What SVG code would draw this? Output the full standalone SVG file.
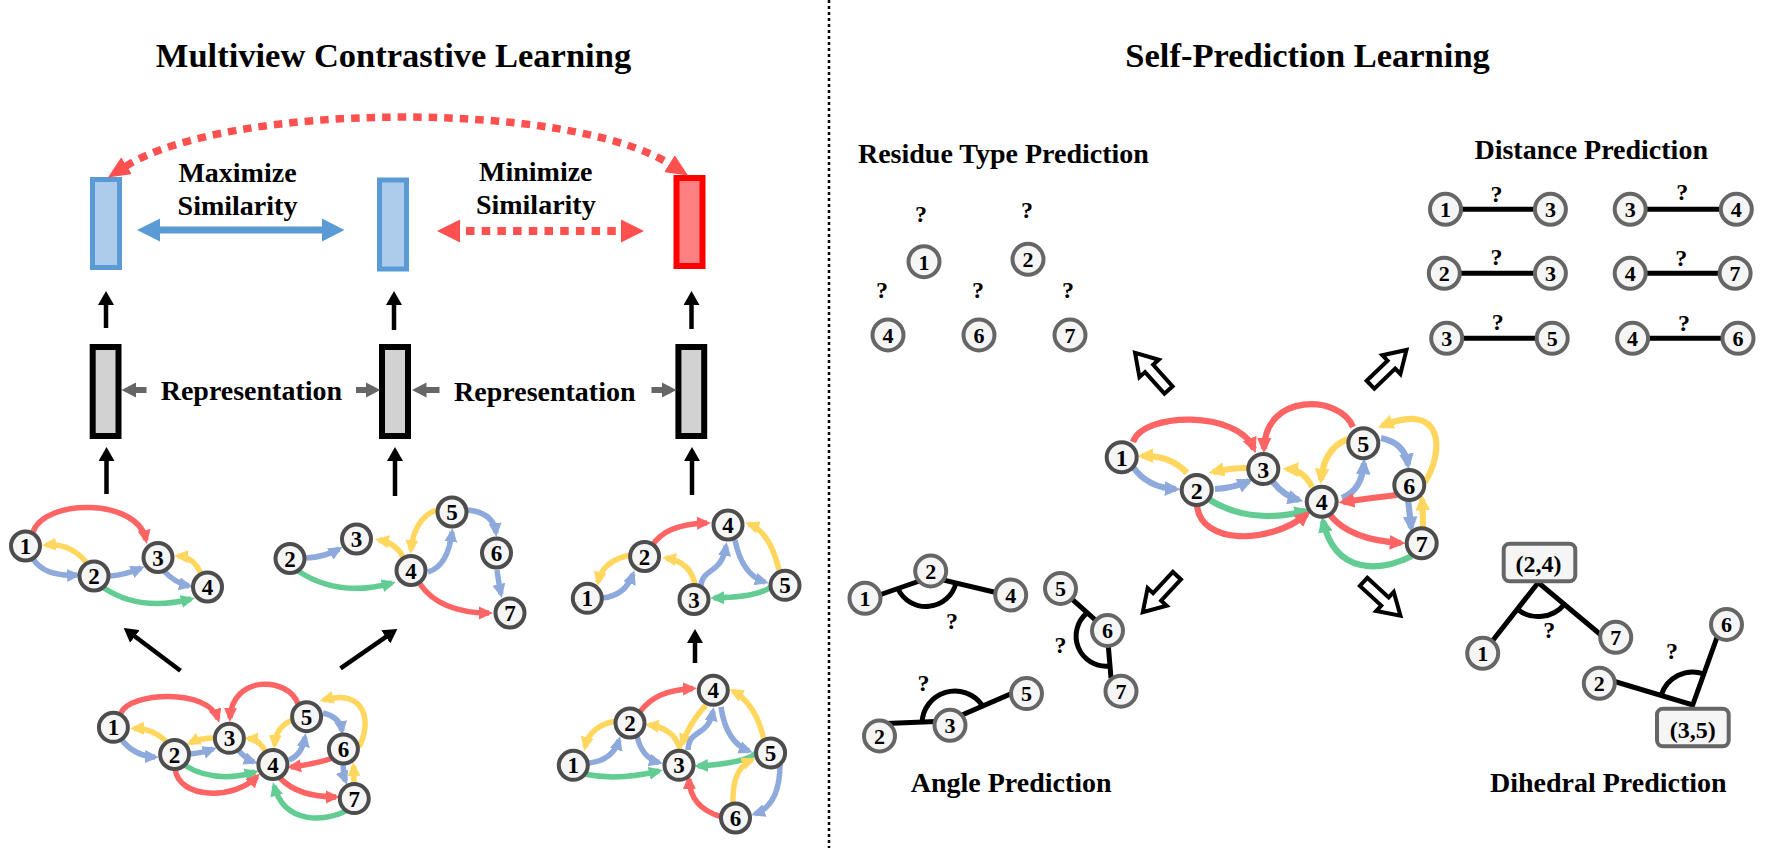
<svg xmlns="http://www.w3.org/2000/svg" width="1780" height="848" viewBox="0 0 1780 848">
<style>
text{font-family:'Liberation Serif','Times New Roman',serif;font-weight:bold;fill:#000}
.h1{font-size:34.5px;text-anchor:middle}
.h2{font-size:28px;text-anchor:middle}
.q{font-size:24px;text-anchor:middle}
.n circle{fill:#f5f5f5;stroke:#4d4d4d;stroke-width:4}
.n text{font-size:23px;text-anchor:middle}
.s circle{fill:#f5f5f5;stroke:#666;stroke-width:4}
.s text{font-size:22px;text-anchor:middle}
.e{fill:none;stroke-width:5.5}
.ec{fill:none;stroke-width:6.2}
.R{stroke:#FF6464;marker-end:url(#mR)}
.Y{stroke:#FFD75E;marker-end:url(#mY)}
.B{stroke:#8EA9DB;marker-end:url(#mB)}
.G{stroke:#62CC93;marker-end:url(#mG)}
.k{fill:none;stroke:#000;stroke-width:4.5;marker-end:url(#mK)}
.bl{fill:none;stroke:#000;stroke-width:5;stroke-linejoin:miter}
.blk{fill:#fff;stroke:#000;stroke-width:4;stroke-linejoin:miter}
.gr{fill:#666}
.box{fill:#f5f5f5;stroke:#666;stroke-width:4}
.bb{fill:#ADCBEA;stroke:#5B9BD5;stroke-width:5}
.rb{fill:#FF8080;stroke:#FF0000;stroke-width:6}
.gb{fill:#D2D2D2;stroke:#000;stroke-width:6}
</style>
<defs>
<marker id="mR" viewBox="0 0 14 14" markerWidth="2.55" markerHeight="2.55" refX="10" refY="7" orient="auto"><path d="M0,0.5L14,7L0,13.5z" fill="#FF6464"/></marker>
<marker id="mY" viewBox="0 0 14 14" markerWidth="2.55" markerHeight="2.55" refX="10" refY="7" orient="auto"><path d="M0,0.5L14,7L0,13.5z" fill="#FFD75E"/></marker>
<marker id="mB" viewBox="0 0 14 14" markerWidth="2.55" markerHeight="2.55" refX="10" refY="7" orient="auto"><path d="M0,0.5L14,7L0,13.5z" fill="#8EA9DB"/></marker>
<marker id="mG" viewBox="0 0 14 14" markerWidth="2.55" markerHeight="2.55" refX="10" refY="7" orient="auto"><path d="M0,0.5L14,7L0,13.5z" fill="#62CC93"/></marker>
<marker id="mK" viewBox="0 0 14 16" markerWidth="14" markerHeight="16" refX="9" refY="8" orient="auto" markerUnits="userSpaceOnUse"><path d="M0,0L14,8L0,16z" fill="#000"/></marker>
<marker id="mD" viewBox="0 0 22 20" markerWidth="22" markerHeight="20" refX="1" refY="10" orient="auto-start-reverse" markerUnits="userSpaceOnUse"><path d="M0,0L22,10L0,20z" fill="#FF5050"/></marker>
<polygon id="blkarrow" points="0,-5.5 29,-5.5 29,-13 50,0 29,13 29,5.5 0,5.5"/>
</defs>
<rect x="0" y="0" width="1780" height="848" fill="#fff"/>

<line x1="829" y1="0" x2="829" y2="848" stroke="#000" stroke-width="2.5" stroke-dasharray="3 3"/>

<text class="h1" x="393.5" y="67">Multiview Contrastive Learning</text>
<text class="h1" x="1307.6" y="67">Self-Prediction Learning</text>
<text class="h2" x="237.5" y="181.7">Maximize</text>
<text class="h2" x="237.5" y="215">Similarity</text>
<text class="h2" x="535.8" y="180.5">Minimize</text>
<text class="h2" x="535.8" y="213.5">Similarity</text>
<text class="h2" x="251.4" y="400">Representation</text>
<text class="h2" x="544.8" y="401">Representation</text>
<text class="h2" x="1003.4" y="162.7">Residue Type Prediction</text>
<text class="h2" x="1591.2" y="159.3">Distance Prediction</text>
<text class="h2" x="1011.2" y="792.3">Angle Prediction</text>
<text class="h2" x="1608.3" y="792">Dihedral Prediction</text>

<g id="emb-view1"><rect class="bb" x="92.5" y="179.5" width="27" height="88"/></g>
<g id="emb-view2"><rect class="bb" x="379.5" y="180" width="27" height="89"/></g>
<g id="emb-view3"><rect class="rb" x="676.5" y="178" width="26" height="88"/></g>
<g id="rep-view1"><rect class="gb" x="92.7" y="347" width="25.8" height="89"/></g>
<g id="rep-view2"><rect class="gb" x="382" y="347" width="26" height="89"/></g>
<g id="rep-view3"><rect class="gb" x="678.4" y="347" width="25.8" height="89"/></g>

<g id="connectors">
<polygon fill="#5B9BD5" points="137,230 160,218.5 160,226.5 322,226.5 322,218.5 344.5,230 322,241.5 322,233.5 160,233.5 160,241.5"/>
<line x1="466" y1="231" x2="616" y2="231" stroke="#FF5050" stroke-width="8" stroke-dasharray="8.5 7.2"/>
<polygon fill="#FF5050" points="437,231 460,219.5 460,242.5"/>
<polygon fill="#FF5050" points="644,231 621,219.5 621,242.5"/>
<path d="M125.7,166.3 C228,102 568,100 670.3,164.3" fill="none" stroke="#FF5050" stroke-width="7.5" stroke-dasharray="8.5 7" marker-start="url(#mD)" marker-end="url(#mD)"/>
<polygon class="gr" points="121.5,390 136,382.5 136,387 146.5,387 146.5,393 136,393 136,397.5"/>
<polygon class="gr" points="380.3,390 366,382.5 366,387 356,387 356,393 366,393 366,397.5"/>
<polygon class="gr" points="412,390 426.5,382.5 426.5,387 439.5,387 439.5,393 426.5,393 426.5,397.5"/>
<polygon class="gr" points="676.5,390 662,382.5 662,387 651.5,387 651.5,393 662,393 662,397.5"/>
<path class="k" d="M106,328 V296"/>
<path class="k" d="M394,330 V296"/>
<path class="k" d="M691.5,329 V296"/>
<path class="k" d="M106.5,494 V452"/>
<path class="k" d="M395,496 V452"/>
<path class="k" d="M692,495 V452"/>
<path class="k" d="M180.5,670.7 L127.7,631"/>
<path class="k" d="M340.5,668.3 L393.2,631.8"/>
<path class="k" d="M695,663 V634"/>

<path class="e R" d="M33,532 C45,498 138,498 146,540"/>
<path class="e Y" d="M86,562 Q70,543 46,545"/>
<path class="e B" d="M33,559 Q45,577 77,575"/>
<path class="e B" d="M110,576 Q125,575 141,568"/>
<path class="e B" d="M164,571 Q175,583 189,586"/>
<path class="e Y" d="M201,574 Q194,557 178,556"/>
<path class="e G" d="M104,588 Q140,612 191,599"/>

<path class="e B" d="M306,558 Q325,557 339,549"/>
<path class="e G" d="M298,571 Q339,598 392,583"/>
<path class="e Y" d="M403,557 Q396,543 379,540"/>
<path class="e Y" d="M436,510 Q414,519 411,550"/>
<path class="e B" d="M428,572 Q448,566 452,532"/>
<path class="e B" d="M468,510 Q494,513 496,533"/>
<path class="e B" d="M497,570 Q499,585 501,594"/>
<path class="e R" d="M420,584 Q440,613 489,613"/>

<path class="e Y" d="M631,555 Q603,560 598,582"/>
<path class="e B" d="M602,598 Q625,596 633,574"/>
<path class="e R" d="M652,546 Q665,524 707,523"/>
<path class="e Y" d="M695,585 Q691,562 666,558"/>
<path class="e B" d="M701,586 C702,568 722,574 726,546"/>
<path class="e B" d="M735,540 Q742,575 765,582"/>
<path class="e Y" d="M779,570 Q770,532 749,524"/>
<path class="e G" d="M772,586 Q760,597 714,598"/>

<path class="e Y" d="M617,721 Q590,725 585,747"/>
<path class="e B" d="M589,763 Q613,760 619,740"/>
<path class="e G" d="M584,774 Q618,781 659,771"/>
<path class="e R" d="M640,712 Q655,690 693,688.5"/>
<path class="e B" d="M637,736 Q642,758 659,762.5"/>
<path class="e Y" d="M680,749 Q674,728 649,725"/>
<path class="e Y" d="M706,705 Q690,722 682,744"/>
<path class="e B" d="M688,750 C689,728 708,738 713,711"/>
<path class="e B" d="M721,707 Q726,742 749,751"/>
<path class="e Y" d="M764,740 Q756,704 733,691"/>
<path class="e G" d="M757,752 Q748,763 698,766"/>
<path class="e Y" d="M733,803 Q732,768 752,760"/>
<path class="e B" d="M780,764 Q780,805 755,814"/>
<path class="e R" d="M722,817 Q690,808 689,779"/>

<path class="e R" d="M121,713 C130,692 208,688 218,719"/>
<path class="e Y" d="M166,741 Q152,728 134,728.5"/>
<path class="e B" d="M121,739 Q134,756 155,757"/>
<path class="e Y" d="M215,738 Q200,738 190,743"/>
<path class="e B" d="M190,754 Q202,753 213,749"/>
<path class="e B" d="M238,750 Q246,759 254,762"/>
<path class="e Y" d="M265,751 Q259,739 248,738.5"/>
<path class="e R" d="M298,704 C288,676 232,675 230,718"/>
<path class="e Y" d="M293,720 Q276,726 274.5,745"/>
<path class="e B" d="M289,760 Q302,755 305,737"/>
<path class="e G" d="M184,765 Q215,784 255,772"/>
<path class="e R" d="M175,768 C178,800 235,800 257,776.5"/>
<path class="e B" d="M323,713 Q340,717 342,731"/>
<path class="e Y" d="M359,747 C372,722 366,688 323.5,700"/>
<path class="e R" d="M333,758 Q315,764 291,767"/>
<path class="e B" d="M343,765 Q344,777 345.5,781"/>
<path class="e Y" d="M354,785 Q354,775 353.5,766"/>
<path class="e R" d="M280,778 Q298,797 336,797"/>
<path class="e G" d="M348,810 C325,822 285,825 274,786"/>

<path class="ec R" d="M1133,442 C1143,412 1238,410 1254,449"/>
<path class="ec Y" d="M1187,473 Q1170,455 1142,456"/>
<path class="ec B" d="M1133,467 Q1148,488 1176,489"/>
<path class="ec Y" d="M1248,468 Q1230,468 1213,472"/>
<path class="ec B" d="M1215,489 Q1234,488 1249,481"/>
<path class="ec B" d="M1273,482 Q1284,496 1299,500"/>
<path class="ec Y" d="M1312,487 Q1304,470 1287,469"/>
<path class="ec R" d="M1353,427 C1340,395 1265,392 1264,449"/>
<path class="ec Y" d="M1348,439 Q1324,448 1321,480"/>
<path class="ec B" d="M1342,498 Q1362,490 1364,463"/>
<path class="ec B" d="M1381,438 Q1405,443 1408,465"/>
<path class="ec Y" d="M1425,482 C1444,452 1445,400 1382,426"/>
<path class="ec R" d="M1397,495 Q1370,498 1343,502"/>
<path class="ec B" d="M1408,500 Q1410,515 1411,528"/>
<path class="ec Y" d="M1423,527 Q1423,512 1422,499"/>
<path class="ec R" d="M1330,515 Q1350,540 1401,543"/>
<path class="ec G" d="M1412,556 C1380,572 1335,575 1323,521"/>
<path class="ec G" d="M1210,500 Q1250,525 1306,511"/>
<path class="ec R" d="M1197,505 C1200,545 1270,545 1307,514"/>

<use href="#blkarrow" class="blk" transform="translate(1168.5,390) rotate(-132)"/>
<use href="#blkarrow" class="blk" transform="translate(1370.5,384.7) rotate(-44)"/>
<use href="#blkarrow" class="blk" transform="translate(1176.9,575.7) rotate(133)"/>
<use href="#blkarrow" class="blk" transform="translate(1363.6,581.9) rotate(42.5)"/>

<line class="bl" x1="1445.5" y1="209.3" x2="1550.4" y2="209.3"/>
<line class="bl" x1="1630.2" y1="209.3" x2="1736.3" y2="209.3"/>
<line class="bl" x1="1444.3" y1="273.3" x2="1550.4" y2="273.3"/>
<line class="bl" x1="1630.2" y1="273.3" x2="1735.1" y2="273.3"/>
<line class="bl" x1="1446.7" y1="338.3" x2="1552.2" y2="338.3"/>
<line class="bl" x1="1632.6" y1="338.3" x2="1738" y2="338.3"/>

<polyline class="bl" points="865,600 931,577 1010.7,596"/>
<path class="bl" d="M898,589 A31,31 0 0 0 956,583"/>
<polyline class="bl" points="1060,588.3 1107,630.5 1111,678"/>
<path class="bl" d="M1087,613 A30,30 0 0 0 1109,666"/>
<polyline class="bl" points="886,723.5 948,721 1026.5,687"/>
<path class="bl" d="M922,723 A33,33 0 0 1 982,705"/>

<polyline class="bl" points="1482.7,653.3 1538.3,582.5 1601,635"/>
<path class="bl" d="M1517.3,609.3 A34,34 0 0 0 1564.4,604.3"/>
<polyline class="bl" points="1603,678 1692.7,705 1720,629"/>
<path class="bl" d="M1661.1,695.5 A33,33 0 0 1 1703.9,674"/>
</g>

<g id="v1-n1" class="n"><circle cx="25.5" cy="546" r="14.5"/><text x="25.5" y="554">1</text></g>
<g id="v1-n2" class="n"><circle cx="94" cy="576" r="14.5"/><text x="94" y="584">2</text></g>
<g id="v1-n3" class="n"><circle cx="158" cy="557.5" r="14.5"/><text x="158" y="565.5">3</text></g>
<g id="v1-n4" class="n"><circle cx="207.5" cy="587" r="14.5"/><text x="207.5" y="595">4</text></g>
<g id="v2-n2" class="n"><circle cx="290" cy="558.5" r="14.5"/><text x="290" y="566.5">2</text></g>
<g id="v2-n3" class="n"><circle cx="356.5" cy="539" r="14.5"/><text x="356.5" y="547">3</text></g>
<g id="v2-n4" class="n"><circle cx="411" cy="570.5" r="14.5"/><text x="411" y="578.5">4</text></g>
<g id="v2-n5" class="n"><circle cx="452" cy="512" r="14.5"/><text x="452" y="520">5</text></g>
<g id="v2-n6" class="n"><circle cx="496.5" cy="553" r="14.5"/><text x="496.5" y="561">6</text></g>
<g id="v2-n7" class="n"><circle cx="510" cy="613" r="14.5"/><text x="510" y="621">7</text></g>
<g id="v3-n1" class="n"><circle cx="587.3" cy="598.3" r="14.5"/><text x="587.3" y="606.3">1</text></g>
<g id="v3-n2" class="n"><circle cx="644.6" cy="556.5" r="14.5"/><text x="644.6" y="564.5">2</text></g>
<g id="v3-n3" class="n"><circle cx="694" cy="599.5" r="14.5"/><text x="694" y="607.5">3</text></g>
<g id="v3-n4" class="n"><circle cx="728" cy="525" r="14.5"/><text x="728" y="533">4</text></g>
<g id="v3-n5" class="n"><circle cx="785" cy="585.3" r="14.5"/><text x="785" y="593.3">5</text></g>
<g id="v4-n1" class="n"><circle cx="573.3" cy="765.3" r="14.5"/><text x="573.3" y="773.3">1</text></g>
<g id="v4-n2" class="n"><circle cx="630" cy="723" r="14.5"/><text x="630" y="731">2</text></g>
<g id="v4-n3" class="n"><circle cx="679" cy="765.3" r="14.5"/><text x="679" y="773.3">3</text></g>
<g id="v4-n4" class="n"><circle cx="713.3" cy="690.3" r="14.5"/><text x="713.3" y="698.3">4</text></g>
<g id="v4-n5" class="n"><circle cx="770.6" cy="753" r="14.5"/><text x="770.6" y="761">5</text></g>
<g id="v4-n6" class="n"><circle cx="735.5" cy="818" r="14.5"/><text x="735.5" y="826">6</text></g>
<g id="orig-n1" class="n"><circle cx="113.4" cy="727.3" r="14.5"/><text x="113.4" y="735.3">1</text></g>
<g id="orig-n2" class="n"><circle cx="174.6" cy="754.5" r="14.5"/><text x="174.6" y="762.5">2</text></g>
<g id="orig-n3" class="n"><circle cx="229.4" cy="738.3" r="14.5"/><text x="229.4" y="746.3">3</text></g>
<g id="orig-n4" class="n"><circle cx="272.9" cy="764.5" r="14.5"/><text x="272.9" y="772.5">4</text></g>
<g id="orig-n5" class="n"><circle cx="306.6" cy="716.7" r="14.5"/><text x="306.6" y="724.7">5</text></g>
<g id="orig-n6" class="n"><circle cx="343.4" cy="749" r="14.5"/><text x="343.4" y="757">6</text></g>
<g id="orig-n7" class="n"><circle cx="354.3" cy="798.6" r="14.5"/><text x="354.3" y="806.6">7</text></g>
<g id="pg-n1" class="n"><circle cx="1121.7" cy="457.3" r="15"/><text x="1121.7" y="465.8" style="font-size:24px">1</text></g>
<g id="pg-n2" class="n"><circle cx="1196.7" cy="490" r="15"/><text x="1196.7" y="498.5" style="font-size:24px">2</text></g>
<g id="pg-n3" class="n"><circle cx="1263.3" cy="469" r="15"/><text x="1263.3" y="477.5" style="font-size:24px">3</text></g>
<g id="pg-n4" class="n"><circle cx="1321.7" cy="501.7" r="15"/><text x="1321.7" y="510.2" style="font-size:24px">4</text></g>
<g id="pg-n5" class="n"><circle cx="1363.3" cy="443.3" r="15"/><text x="1363.3" y="451.8" style="font-size:24px">5</text></g>
<g id="pg-n6" class="n"><circle cx="1409.3" cy="485" r="15"/><text x="1409.3" y="493.5" style="font-size:24px">6</text></g>
<g id="pg-n7" class="n"><circle cx="1421.7" cy="543.3" r="15"/><text x="1421.7" y="551.8" style="font-size:24px">7</text></g>

<g id="rt-n1" class="s"><circle cx="924" cy="261.7" r="15.5"/><text x="924" y="269.5">1</text></g>
<g id="rt-n2" class="s"><circle cx="1028" cy="259.3" r="15.5"/><text x="1028" y="267.1">2</text></g>
<g id="rt-n4" class="s"><circle cx="888" cy="335" r="15.5"/><text x="888" y="342.8">4</text></g>
<g id="rt-n6" class="s"><circle cx="979" cy="335" r="15.5"/><text x="979" y="342.8">6</text></g>
<g id="rt-n7" class="s"><circle cx="1070" cy="335" r="15.5"/><text x="1070" y="342.8">7</text></g>
<text class="q" x="921" y="221.7">?</text>
<text class="q" x="1027" y="218.3">?</text>
<text class="q" x="882" y="297.7">?</text>
<text class="q" x="978" y="297.7">?</text>
<text class="q" x="1068" y="297.7">?</text>

<g id="dp-a1" class="s"><circle cx="1445.5" cy="209.3" r="15.5"/><text x="1445.5" y="217.1">1</text></g>
<g id="dp-a3" class="s"><circle cx="1550.4" cy="209.3" r="15.5"/><text x="1550.4" y="217.1">3</text></g>
<g id="dp-b3" class="s"><circle cx="1630.2" cy="209.3" r="15.5"/><text x="1630.2" y="217.1">3</text></g>
<g id="dp-b4" class="s"><circle cx="1736.3" cy="209.3" r="15.5"/><text x="1736.3" y="217.1">4</text></g>
<g id="dp-c2" class="s"><circle cx="1444.3" cy="273.3" r="15.5"/><text x="1444.3" y="281.1">2</text></g>
<g id="dp-c3" class="s"><circle cx="1550.4" cy="273.3" r="15.5"/><text x="1550.4" y="281.1">3</text></g>
<g id="dp-d4" class="s"><circle cx="1630.2" cy="273.3" r="15.5"/><text x="1630.2" y="281.1">4</text></g>
<g id="dp-d7" class="s"><circle cx="1735.1" cy="273.3" r="15.5"/><text x="1735.1" y="281.1">7</text></g>
<g id="dp-e3" class="s"><circle cx="1446.7" cy="338.3" r="15.5"/><text x="1446.7" y="346.1">3</text></g>
<g id="dp-e5" class="s"><circle cx="1552.2" cy="338.3" r="15.5"/><text x="1552.2" y="346.1">5</text></g>
<g id="dp-f4" class="s"><circle cx="1632.6" cy="338.3" r="15.5"/><text x="1632.6" y="346.1">4</text></g>
<g id="dp-f6" class="s"><circle cx="1738" cy="338.3" r="15.5"/><text x="1738" y="346.1">6</text></g>
<text class="q" x="1496.5" y="202">?</text>
<text class="q" x="1682.3" y="200">?</text>
<text class="q" x="1496.5" y="265">?</text>
<text class="q" x="1681.3" y="266">?</text>
<text class="q" x="1497.7" y="330">?</text>
<text class="q" x="1684.1" y="331">?</text>

<g id="ap-a1" class="s"><circle cx="865" cy="598.3" r="15.5"/><text x="865" y="606.1">1</text></g>
<g id="ap-a2" class="s"><circle cx="930.7" cy="571" r="15.5"/><text x="930.7" y="578.8">2</text></g>
<g id="ap-a4" class="s"><circle cx="1010.7" cy="595" r="15.5"/><text x="1010.7" y="602.8">4</text></g>
<g id="ap-b5" class="s"><circle cx="1060.5" cy="588.5" r="15.5"/><text x="1060.5" y="596.3">5</text></g>
<g id="ap-b6" class="s"><circle cx="1107.5" cy="630.5" r="15.5"/><text x="1107.5" y="638.3">6</text></g>
<g id="ap-b7" class="s"><circle cx="1121" cy="691.2" r="15.5"/><text x="1121" y="699">7</text></g>
<g id="ap-c2" class="s"><circle cx="879.5" cy="736" r="15.5"/><text x="879.5" y="743.8">2</text></g>
<g id="ap-c3" class="s"><circle cx="950" cy="725.3" r="15.5"/><text x="950" y="733.1">3</text></g>
<g id="ap-c5" class="s"><circle cx="1026.5" cy="693.6" r="15.5"/><text x="1026.5" y="701.4">5</text></g>
<text class="q" x="952" y="629.3">?</text>
<text class="q" x="1060.5" y="653">?</text>
<text class="q" x="923.5" y="691">?</text>

<g id="dh-n1" class="s"><circle cx="1482.7" cy="653.3" r="15.5"/><text x="1482.7" y="661.1">1</text></g>
<g id="dh-n7" class="s"><circle cx="1615.7" cy="637.3" r="15.5"/><text x="1615.7" y="645.1">7</text></g>
<g id="dh-n2" class="s"><circle cx="1599.3" cy="683.3" r="15.5"/><text x="1599.3" y="691.1">2</text></g>
<g id="dh-n6" class="s"><circle cx="1726.5" cy="624.5" r="15.5"/><text x="1726.5" y="632.3">6</text></g>
<g id="dh-box24"><rect class="box" x="1503.7" y="543.7" width="71.6" height="37.6" rx="6"/><text x="1538.5" y="571.5" style="font-size:24px;text-anchor:middle">(2,4)</text></g>
<g id="dh-box35"><rect class="box" x="1657" y="708.7" width="71.7" height="37.6" rx="6"/><text x="1692.8" y="738" style="font-size:24px;text-anchor:middle">(3,5)</text></g>
<text class="q" x="1549.2" y="638">?</text>
<text class="q" x="1672" y="659">?</text>
</svg>
